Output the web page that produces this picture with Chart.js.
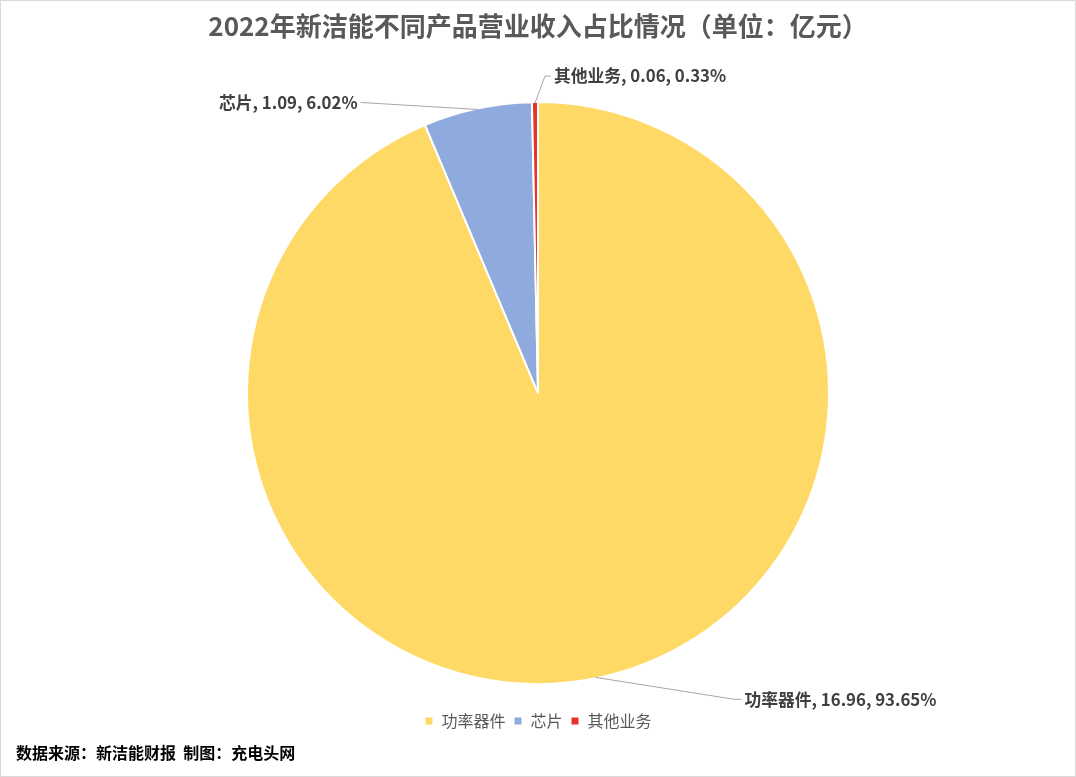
<!DOCTYPE html>
<html>
<head>
<meta charset="utf-8">
<script src="https://cdn.jsdelivr.net/npm/chart.js@4.4.0/dist/chart.umd.min.js"></script>
<style>
  html, body { margin: 0; padding: 0; background: #fff; }
  #wrap { position: relative; width: 1076px; height: 777px; }
  #frame { position: absolute; left: 0; top: 0; width: 1076px; height: 777px; box-sizing: border-box; border: 1px solid #d9d9d9; pointer-events: none; }
  #source { position: absolute; left: 16px; top: 740px; font: bold 16px "Noto Sans CJK SC", sans-serif; color: #000; }
</style>
</head>
<body>
<div id="wrap">
  <canvas id="pieChart" width="1076" height="777"></canvas>
  <div id="frame"></div>
  <div id="source">数据来源：新洁能财报&nbsp;&nbsp;制图：充电头网</div>
</div>
<script>
const categories = ["功率器件", "芯片", "其他业务"];
const revenue = [16.96, 1.09, 0.06];
const shares = ["93.65%", "6.02%", "0.33%"];
const colors = ["#FFD966", "#8FAADC", "#E5322D"];

const FONT = '"Noto Sans CJK SC", "Noto Sans", sans-serif';

// leader line offsets from the arc edge, per slice
const leaderOffsets = [
  { dx: 139, dy: 22, tail: 7, side: "left" },
  { dx: -117, dy: -7, tail: 0, side: "right" },
  { dx: 10, dy: -27, tail: 6, side: "left" }
];

const pieLabels = {
  id: "pieLabels",
  afterDatasetsDraw(chart) {
    const ctx = chart.ctx;
    const meta = chart.getDatasetMeta(0);
    ctx.save();
    ctx.font = "bold 16.8px " + FONT;
    ctx.textBaseline = "middle";
    meta.data.forEach((arc, i) => {
      const p = arc.getProps(["x", "y", "startAngle", "endAngle", "outerRadius"], true);
      const mid = (p.startAngle + p.endAngle) / 2;
      const ex = p.x + Math.cos(mid) * (p.outerRadius - 1);
      const ey = p.y + Math.sin(mid) * (p.outerRadius - 1);
      const o = leaderOffsets[i];
      const bx = ex + o.dx;
      const by = ey + o.dy;
      const tx = o.side === "left" ? bx + o.tail : bx - o.tail;

      ctx.strokeStyle = "#a6a6a6";
      ctx.lineWidth = 1;
      ctx.beginPath();
      ctx.moveTo(ex, ey);
      ctx.lineTo(bx, by);
      ctx.lineTo(tx, by);
      ctx.stroke();

      const text = categories[i] + ", " + revenue[i].toFixed(2) + ", " + shares[i];
      ctx.fillStyle = "#404040";
      ctx.textAlign = o.side;
      ctx.fillText(text, o.side === "left" ? tx + 3 : tx - 3, by);
    });
    ctx.restore();
  }
};

const ctx = document.getElementById("pieChart").getContext("2d");
new Chart(ctx, {
  type: "pie",
  data: {
    labels: categories,
    datasets: [{
      data: revenue,
      backgroundColor: colors,
      borderColor: "#ffffff",
      borderWidth: 2,
      radius: 291
    }]
  },
  options: {
    responsive: false,
    animation: false,
    layout: { padding: { top: 0, bottom: 38, left: 0, right: 0 } },
    plugins: {
      title: {
        display: true,
        text: "2022年新洁能不同产品营业收入占比情况（单位：亿元）",
        color: "#595959",
        font: { family: FONT, size: 26, weight: "bold" },
        padding: { top: 11, bottom: 39 }
      },
      legend: {
        position: "bottom",
        labels: {
          color: "#595959",
          font: { family: FONT, size: 16 },
          boxWidth: 9,
          boxHeight: 9,
          padding: 8
        }
      },
      tooltip: { enabled: false }
    }
  },
  plugins: [pieLabels]
});
</script>
</body>
</html>
